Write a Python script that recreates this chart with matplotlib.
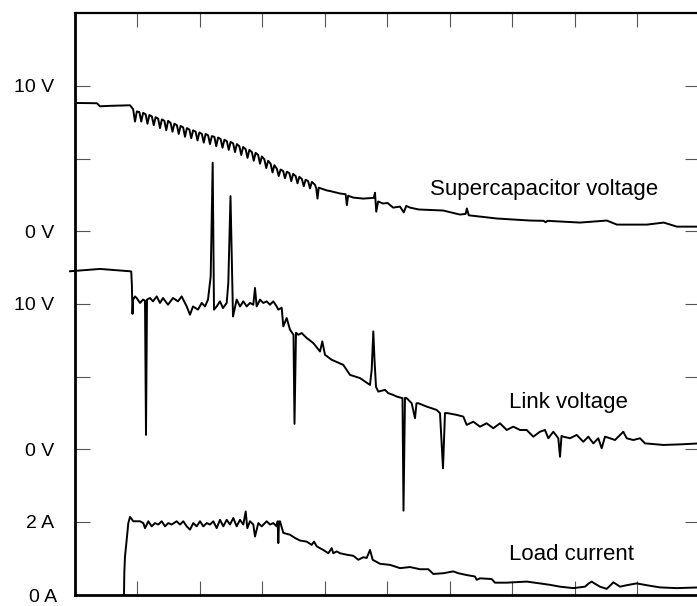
import matplotlib
matplotlib.use("Agg")
import matplotlib.pyplot as plt

plt.rcParams['font.family'] = ['Liberation Sans', 'DejaVu Sans']

# Supercapacitor voltage (V) against time (divisions)
# smooth start
sc_head_t = [0.00, 0.35, 0.40, 0.55, 0.88]
sc_head_v = [8.83, 8.81, 8.60, 8.63, 8.67]
# rippled part: each ripple has a top, a dip and a second top
rip_t0 = [0.93, 1.03, 1.13, 1.23, 1.33, 1.43, 1.53, 1.63, 1.73, 1.83,
          1.93, 2.03, 2.13, 2.23, 2.33, 2.43, 2.53, 2.63, 2.73, 2.83,
          2.93, 3.03, 3.13, 3.23, 3.33, 3.43, 3.53, 3.63, 3.73]
rip_top = [8.40, 8.20, 8.05, 7.90, 7.75, 7.60, 7.45, 7.30, 7.15, 7.00,
           6.85, 6.70, 6.60, 6.50, 6.35, 6.20, 6.05, 5.85, 5.65, 5.45,
           5.25, 4.95, 4.65, 4.30, 4.15, 4.00, 3.80, 3.60, 3.45]
rip_bot = [7.55, 7.55, 7.40, 7.30, 7.10, 6.95, 6.85, 6.70, 6.50, 6.40,
           6.25, 6.10, 6.00, 5.85, 5.75, 5.60, 5.45, 5.25, 5.05, 4.85,
           4.65, 4.35, 4.05, 3.80, 3.65, 3.45, 3.30, 3.10, 2.95]
rip_top2 = [8.25, 8.15, 8.00, 7.85, 7.70, 7.60, 7.40, 7.25, 7.10, 6.95,
            6.80, 6.70, 6.55, 6.45, 6.30, 6.15, 6.00, 5.80, 5.60, 5.40,
            5.15, 4.85, 4.55, 4.25, 4.10, 3.95, 3.75, 3.55, 3.40]
# tail
sc_tail_t = [3.84, 3.86, 3.88, 3.90, 4.03, 4.10, 4.24, 4.33, 4.35, 4.37, 4.45,
             4.61, 4.78, 4.80, 4.82, 4.85, 4.93, 5.00, 5.09, 5.20, 5.26, 5.30,
             5.36, 5.50, 5.89, 6.16, 6.25, 6.27, 6.30, 6.75, 7.28, 7.50, 7.53,
             7.56, 8.08, 8.51, 8.67, 9.15, 9.42, 9.63, 10.0]
sc_tail_v = [3.20, 2.95, 2.25, 3.00, 2.81, 2.75, 2.60, 2.55, 1.80, 2.45, 2.32,
             2.25, 2.30, 2.65, 1.35, 2.05, 1.91, 1.95, 1.63, 1.70, 1.30, 1.75,
             1.63, 1.50, 1.43, 1.15, 1.20, 1.57, 1.10, 0.88, 0.74, 0.72, 0.62,
             0.72, 0.60, 0.74, 0.46, 0.46, 0.60, 0.32, 0.32]

# Link voltage (V)
link_t = [-0.08, 0.40, 0.88, 0.90, 0.91, 0.92, 0.93, 0.96, 0.987, 1.04, 1.088,
          1.12, 1.136, 1.152, 1.20, 1.248, 1.307, 1.36, 1.408, 1.488, 1.568,
          1.648, 1.707, 1.787, 1.84, 1.888, 1.968, 2.027, 2.08, 2.128, 2.171,
          2.203, 2.224, 2.267, 2.32, 2.368, 2.427, 2.453, 2.488, 2.528, 2.587,
          2.64, 2.693, 2.747, 2.80, 2.853, 2.88, 2.907, 2.96, 3.013, 3.067,
          3.12, 3.173, 3.227, 3.253, 3.307, 3.333, 3.387, 3.44, 3.496, 3.512,
          3.536, 3.573, 3.627, 3.707, 3.813, 3.92, 3.957, 4.00, 4.107, 4.293,
          4.40, 4.56, 4.72, 4.747, 4.773, 4.792, 4.816, 4.853, 4.96, 5.013,
          5.093, 5.147, 5.24, 5.256, 5.28, 5.307, 5.387, 5.44, 5.464, 5.493,
          5.627, 5.787, 5.84, 5.888, 5.92, 5.973, 6.107, 6.213, 6.267, 6.373,
          6.48, 6.587, 6.693, 6.80, 6.907, 7.013, 7.12, 7.227, 7.333, 7.44,
          7.52, 7.573, 7.653, 7.733, 7.76, 7.784, 7.813, 7.92, 8.027, 8.133,
          8.213, 8.293, 8.373, 8.427, 8.48, 8.56, 8.64, 8.773, 8.827, 8.933,
          9.04, 9.12, 9.413, 9.68, 10.0]
link_v = [12.25, 12.41, 12.25, 12.23, 11.30, 9.32, 10.30, 10.52, 10.41, 10.07,
          10.30, 10.23, 0.99, 10.30, 10.41, 10.18, 10.52, 10.07, 10.41, 9.95,
          10.41, 10.18, 10.52, 9.83, 9.26, 9.83, 9.61, 10.07, 9.83, 10.30,
          11.90, 19.72, 9.61, 9.83, 10.18, 9.72, 10.07, 11.45, 17.42, 9.14,
          10.30, 9.83, 10.18, 9.83, 10.07, 9.95, 11.10, 9.83, 10.30, 10.07,
          10.18, 9.95, 10.18, 9.83, 9.61, 9.74, 8.46, 9.03, 8.23, 7.88, 1.75,
          8.02, 7.88, 8.00, 7.66, 7.31, 6.73, 7.42, 6.50, 6.16, 5.81, 5.12,
          4.90, 4.43, 5.47, 8.11, 6.16, 4.30, 3.97, 4.09, 3.86, 3.74, 3.63,
          3.52, -4.22, 3.54, 3.52, 3.17, 2.14, 3.17, 3.17, 2.94, 2.71, 2.48,
          -1.31, 2.50, 2.48, 2.37, 2.25, 1.68, 1.90, 1.56, 1.79, 1.45, 1.79,
          1.33, 1.56, 1.33, 1.33, 0.87, 1.21, 1.33, 0.76, 1.21, 0.76, -0.51,
          0.92, 0.87, 0.76, 0.99, 0.52, 0.87, 0.41, 0.76, 0.07, 0.87, 0.76,
          0.64, 1.21, 0.76, 0.64, 0.76, 0.41, 0.30, 0.34, 0.41]

# Load current (A)
load_t = [0.784, 0.789, 0.80, 0.827, 0.853, 0.88, 0.933, 1.04, 1.093, 1.12,
          1.173, 1.227, 1.28, 1.333, 1.387, 1.44, 1.493, 1.547, 1.627, 1.68,
          1.733, 1.787, 1.84, 1.893, 1.947, 2.00, 2.053, 2.107, 2.16, 2.213,
          2.267, 2.32, 2.373, 2.427, 2.48, 2.533, 2.587, 2.64, 2.693, 2.731,
          2.757, 2.80, 2.853, 2.88, 2.933, 2.987, 3.067, 3.12, 3.173, 3.227,
          3.243, 3.253, 3.264, 3.28, 3.333, 3.44, 3.52, 3.60, 3.707, 3.787,
          3.824, 3.867, 3.973, 4.053, 4.107, 4.133, 4.187, 4.24, 4.347, 4.453,
          4.533, 4.613, 4.667, 4.72, 4.763, 4.88, 5.04, 5.20, 5.36, 5.52,
          5.653, 5.733, 5.893, 6.053, 6.133, 6.267, 6.40, 6.427, 6.48, 6.667,
          6.72, 6.907, 7.12, 7.227, 7.44, 7.60, 7.76, 7.973, 8.16, 8.22, 8.267,
          8.32, 8.40, 8.507, 8.58, 8.613, 8.65, 8.72, 8.827, 8.987, 9.147,
          9.36, 9.627, 10.0]
load_i = [0.00, 0.60, 1.05, 1.51, 1.97, 2.14, 2.02, 2.02, 1.97, 1.83,
          2.02, 1.88, 1.97, 1.93, 2.02, 1.88, 1.97, 1.93, 2.02, 1.93,
          2.02, 1.88, 1.79, 1.97, 1.88, 2.02, 1.88, 1.97, 1.93, 2.02,
          1.83, 2.06, 1.88, 2.06, 1.93, 2.11, 1.88, 2.06, 1.93, 2.29,
          1.83, 2.02, 1.93, 1.60, 1.97, 1.88, 2.02, 1.93, 1.97, 1.88,
          2.02, 1.42, 2.01, 2.02, 1.70, 1.65, 1.56, 1.49, 1.46, 1.37,
          1.46, 1.33, 1.23, 1.14, 1.28, 1.14, 1.19, 1.14, 1.10, 1.07,
          0.96, 1.03, 1.01, 1.23, 0.96, 0.85, 0.82, 0.73, 0.76, 0.70,
          0.70, 0.57, 0.59, 0.64, 0.59, 0.54, 0.50, 0.41, 0.45, 0.43,
          0.33, 0.33, 0.35, 0.36, 0.31, 0.27, 0.22, 0.18, 0.22, 0.31, 0.36,
          0.30, 0.22, 0.16, 0.28, 0.34, 0.30, 0.22, 0.26, 0.31, 0.26,
          0.20, 0.18, 0.20]

tick_pos = [1, 2, 3, 4, 5, 6, 7]
tick_labels = ['2 A', '0 V', '', '10 V', '0 V', '', '10 V']

# build the supercap trace from its pieces
sc_t = list(sc_head_t)
sc_v = list(sc_head_v)
for t0, a, b, c in zip(rip_t0, rip_top, rip_bot, rip_top2):
    sc_t += [t0, t0 + 0.03, t0 + 0.06]
    sc_v += [a, b, c]
sc_t += sc_tail_t
sc_v += sc_tail_v

fig = plt.figure(figsize=(6.97, 6.06), dpi=100)
ax = fig.add_axes([0.1076, 0.0187, 0.8967, 0.9594])

# each trace sits in its own band: supercap 0..10 V -> 5..7, link 0..10 V -> 2..4, load 0..2 A -> 0..1
ax.plot(sc_t, [5 + v / 5 for v in sc_v], color='black', lw=1.4)
ax.plot(link_t, [2 + v / 5 for v in link_v], color='black', lw=1.4, clip_on=False)
ax.plot(load_t, [i / 2 for i in load_i], color='black', lw=1.4)

ax.set_xlim(0, 10)
ax.set_ylim(0, 8)

ax.set_xticks(range(1, 10))
ax.set_xticklabels([])
ax.set_yticks(tick_pos)
ax.set_yticklabels(tick_labels)
ax.tick_params(axis='x', direction='in', length=10, width=0.8, color='#555555',
               top=True, bottom=True)
ax.tick_params(axis='y', direction='in', length=11, width=0.8, color='#555555',
               left=True, right=True, labelsize=14, pad=15)

# the 0 A label sits at the bottom corner
ax.text(-0.29, -0.035, '0 A', fontsize=14, ha='right', va='center')

ax.spines['left'].set_linewidth(2.0)
ax.spines['bottom'].set_linewidth(2.0)
ax.spines['top'].set_linewidth(1.6)
ax.spines['right'].set_linewidth(1.6)

ax.text(5.685, 5.5, 'Supercapacitor voltage', fontsize=16, ha='left', va='baseline')
ax.text(6.95, 2.564, 'Link voltage', fontsize=16, ha='left', va='baseline')
ax.text(6.95, 0.477, 'Load current', fontsize=16, ha='left', va='baseline')

fig.savefig('out.png', dpi=100)
